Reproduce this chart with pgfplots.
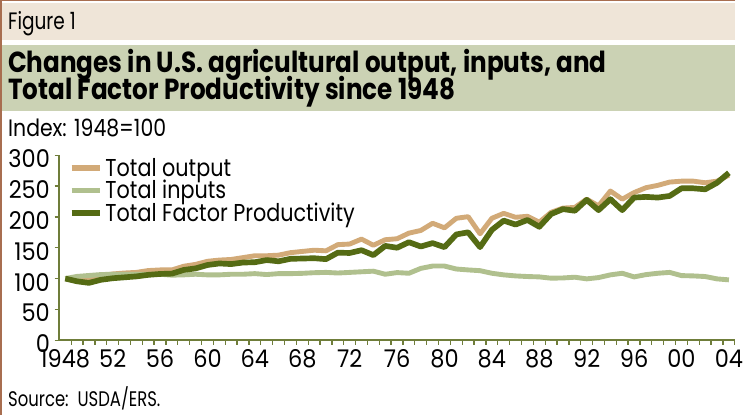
\documentclass[border=0pt]{standalone}
\usepackage{fontspec}
\setmainfont{Poppins}[FakeStretch=0.78]
\newfontfamily\wideFont{Poppins}[FakeStretch=0.86]
\newfontfamily\tickFont{Poppins}[FakeStretch=0.92]
\newfontfamily\legFont{Poppins}[FakeStretch=0.85]
\newfontfamily\titlefont{Poppins}[FakeStretch=0.85]
\usepackage{pgfplots}
\usepackage{pgfplotstable}
\pgfplotsset{compat=1.18}
\definecolor{cOut}{HTML}{D2AA78}
\definecolor{cIn}{HTML}{B0C08E}
\definecolor{cTFP}{HTML}{556B14}
\definecolor{cAxis}{HTML}{6F7D3A}
\definecolor{cBand}{HTML}{EFE5D8}
\definecolor{cTitle}{HTML}{CBD2B4}
\definecolor{cBorder}{HTML}{A86E50}
\pgfplotstableread{
year out in tfp
1948 100 100 100
1949 99 103.5 95.5
1950 98 105 93
1951 104.5 106.5 98
1952 107.5 107 100.5
1953 109 107 102
1954 110 107 103.5
1955 113 107 106
1956 114 107 107.5
1957 114 105.5 108
1958 120 106 114
1959 123 107 116.5
1960 128 106 122
1961 130 106 124.5
1962 131 107 123.5
1963 134 107 126
1964 137 108 126.5
1965 137 106.5 130
1966 138 108 128
1967 142 108 132
1968 144 108.5 132.5
1969 146 109.5 133
1970 145 110 131.5
1971 155 109 142
1972 156 110 141.5
1973 164 111 146
1974 154 112 138
1975 163 107 153
1976 164.6 109.7 150
1977 173.7 108.6 159
1978 178 116.5 152
1979 189.7 120.3 157.5
1980 182.3 120.3 151
1981 197.8 115.5 171.6
1982 200.4 114 175
1983 172.6 112.8 151
1984 197.8 108.6 179
1985 205.8 106 194
1986 199.4 104.3 187.6
1987 201 103.3 195
1988 191.5 102.7 184
1989 207.5 100.6 204.7
1990 214.3 101 212.7
1991 215.4 102.2 210
1992 228.8 99.5 227.7
1993 218 101.6 211
1994 242 106 228.8
1995 228.8 108.6 211
1996 239.5 102.7 231.4
1997 247.4 106.4 232.5
1998 251.2 108.6 231.4
1999 256.5 110 234
2000 258 104.8 246.4
2001 258 104.3 246.4
2002 255.4 103.3 244.8
2003 258 99.5 255.4
2004 267.7 97.9 271.5
}\data
\begin{document}
\begin{tikzpicture}
\begin{scope}[x=0.75pt,y=-0.75pt]
\path[use as bounding box, fill=white] (0,0) rectangle (743,420);
\fill[cBand] (2,3) rectangle (743,40);
\fill[cTitle] (2,45) rectangle (743,112);
\fill[cBorder] (0,0) rectangle (743,1.5);
\fill[cBorder] (0,0) rectangle (2,420);
\node[anchor=base west, inner sep=0pt, font=\fontsize{18}{20}\selectfont] at (8,29.5) {Figure 1};
\node[anchor=base west, inner sep=0pt, font=\titlefont\bfseries\fontsize{22}{24}\selectfont] at (8,73) {Changes in U.S. agricultural output, inputs, and};
\node[anchor=base west, inner sep=0pt, font=\titlefont\bfseries\fontsize{22}{24}\selectfont] at (8,101) {Total Factor Productivity since 1948};
\node[anchor=base west, inner sep=0pt, font=\wideFont\fontsize{18}{20}\selectfont] at (8,138) {Index: 1948=100};
\node[anchor=base west, inner sep=0pt, font=\fontsize{16}{20}\selectfont] at (8,411) {Source:\ \ USDA/ERS.};
\end{scope}
\begin{axis}[
  at={(45pt,-258pt)}, anchor=south west, scale only axis,
  width=512.25pt, height=140.25pt,
  xmin=1947.5, xmax=2004.5, ymin=0, ymax=300,
  axis x line*=bottom, axis y line*=left,
  axis line style={cAxis, line width=1.5pt},
  xtick={1948,1952,...,2004},
  xticklabels={1948,52,56,60,64,68,72,76,80,84,88,92,96,00,04},
  minor xtick={1948.5,1949.5,...,2004.5},
  ytick={0,50,...,300},
  minor ytick={0,50,...,300},
  major tick length=0pt, minor tick length=3.5pt,
  tick align=outside,
  every tick/.style={cAxis, line width=1pt},
  /pgf/number format/assume math mode=true,
  tick label style={font=\tickFont\fontsize{18.5}{20}\selectfont, text=black, text height=13pt, text depth=0pt},
  yticklabel style={inner sep=0pt, xshift=-7pt, yshift=-3pt},
  xticklabel style={inner sep=0pt, yshift=-7.5pt},
  legend cell align=left,
  legend style={at={(0,1)}, anchor=north west, xshift=7pt, yshift=0pt, draw=none, fill=none,
    font=\legFont\fontsize{18.5}{19}\selectfont, row sep=-2.5pt, inner sep=0pt},
  legend image code/.code={\draw[#1, line width=4.3pt] (0pt,0pt) -- (21.5pt,0pt);},
]
\addplot[cOut, line width=3.7pt, line join=round] table[x=year, y=out] {\data};
\addlegendentry{Total output}
\addplot[cIn, line width=3.7pt, line join=round] table[x=year, y=in] {\data};
\addlegendentry{Total inputs}
\addplot[cTFP, line width=4.3pt, line join=round] table[x=year, y=tfp] {\data};
\addlegendentry{Total Factor Productivity}
\end{axis}
\end{tikzpicture}
\end{document}
